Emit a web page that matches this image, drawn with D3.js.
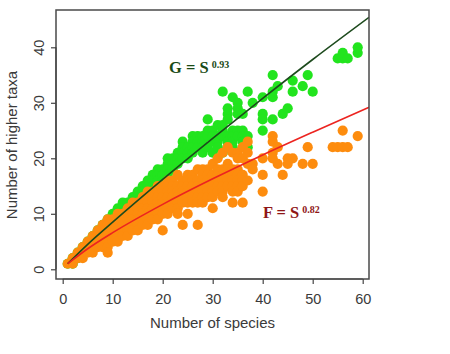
<!DOCTYPE html>
<html><head><meta charset="utf-8">
<script src="https://cdn.jsdelivr.net/npm/d3@7"></script>
<style>html,body{margin:0;padding:0;background:#fff;} svg{display:block;}</style>
</head><body><svg id="chart" width="450" height="354"></svg>
<script>
// ---- data ----
const xTicks = [0, 10, 20, 30, 40, 50, 60];
const yTicks = [0, 10, 20, 30, 40];
const xTitle = "Number of species";
const yTitle = "Number of higher taxa";

// [species, [higher-taxa values]] for genera (green)
const generaGroups = [
  [1,[1]],[2,[2,1]],[3,[3,2]],[4,[4,3]],[5,[5,4]],[6,[6,5]],[7,[7,6]],[8,[8,7,6]],[9,[9,8,7]],
  [10,[10,9,8]],[11,[11,10,9]],[12,[12,11,10]],[13,[12,11,10]],[14,[13,12,11]],[15,[14,13,12]],
  [16,[15,14,13]],[17,[16,15,14]],[18,[17,16,15]],[19,[18,17,16]],[20,[18,17,16]],
  [21,[20,19,18,17]],[22,[20,19,18]],[23,[21,20,19]],[24,[23,22,21,20]],[25,[22,21,20]],
  [26,[24,23,22,21]],[27,[24,23,22]],[28,[24,23,22,21]],[29,[27,25,24,22]],[30,[25,24,23,21]],
  [31,[26,24,23,22]],[32,[32,26,25,24,21]],[33,[29,28,27,24,23,22]],[34,[31,25,24,23,22]],
  [35,[30,29,28,25,24]],[36,[28,25,24,23]],[37,[32,24,22]],[38,[30]],[40,[31,28,27,25]],
  [42,[35,32,31,27]],[43,[33]],[44,[28]],[45,[29]],[46,[34,32]],[48,[33]],[49,[35]],[50,[32]],
  [55,[38]],[56,[38,39]],[57,[38]],[59,[39,40]]
];
// [species, [higher-taxa values]] for families (orange)
const familyGroups = [
  [1,[1]],[2,[2,1]],[3,[3,2]],[4,[4,3,2]],[5,[5,4,3]],[6,[6,5,4,3]],[7,[7,6,5,4]],
  [8,[8,7,6,5,4]],[9,[9,8,7,6,5,4,3]],[10,[9,8,7,6,5]],[11,[10,9,8,7,6,5]],[12,[10,9,8,7,6]],
  [13,[11,10,9,8,7,6]],[14,[12,11,10,9,8,7]],[15,[12,11,10,9,8,7]],[16,[13,12,11,10,9,8]],
  [17,[14,13,12,11,10,9,8]],[18,[14,13,12,11,10,9]],[19,[15,14,13,12,11,10,9]],
  [20,[15,14,13,12,11,10,7]],[21,[16,15,14,13,12,11,10]],[22,[16,15,14,13,12,11]],
  [23,[17,15,14,13,12,11,10]],[24,[16,15,14,13,12,8]],[25,[17,16,15,14,13,12,10]],
  [26,[17,16,15,14,13,12]],[27,[18,16,15,14,13,12,8]],[28,[18,17,16,15,14,13,12]],
  [29,[18,17,16,15,14,13]],[30,[19,17,16,15,14,13,11]],[31,[20,18,17,16,15,14]],
  [32,[21,18,17,16,15,14,13]],[33,[22,19,18,17,16,15]],[34,[21,18,17,16,15,14,12]],
  [35,[21,20,18,17,16,15,14]],[36,[22,20,17,16,15,12]],[37,[23,21,19,16]],[38,[19,18]],
  [40,[20,17,14]],[42,[24,23,21,20]],[43,[22,19]],[44,[17]],[45,[20,19]],[46,[20]],
  [48,[19]],[49,[22]],[50,[19]],[54,[22]],[55,[22]],[56,[25,22]],[57,[22]],[59,[24]]
];
// fitted power curves, sampled values
const fitS = [1, 5, 10, 20, 30, 40, 50, 61.26];
const fitG = [1, 4.5, 8.5, 16.2, 23.6, 30.8, 37.8, 45.4];
const fitF = [1, 3.7, 6.6, 11.7, 16.3, 20.6, 24.7, 29.2];
const labelG = ["G = S", "0.93"];
const labelF = ["F = S", "0.82"];

// ---- drawing ----
const svg = d3.select("#chart");
const box = {left: 56, right: 369, top: 10, bottom: 279};
const x = d3.scaleLinear().domain([-1.34, 61.26]).range([box.left, box.right]);
const y = d3.scaleLinear().domain([-1.75, 46.72]).range([box.bottom, box.top]);

const flat = groups => groups.flatMap(([s, vals]) => vals.map(v => ({s, v})));
const generaPts = flat(generaGroups);
const familyPts = flat(familyGroups);

svg.append("defs").append("clipPath").attr("id","clip")
  .append("rect").attr("x", box.left).attr("y", box.top)
  .attr("width", box.right - box.left).attr("height", box.bottom - box.top);

const plot = svg.append("g").attr("clip-path","url(#clip)");
plot.append("g").selectAll("circle").data(generaPts).join("circle")
  .attr("cx", d => x(d.s)).attr("cy", d => y(d.v)).attr("r", 5.1).attr("fill", "#22e41e");
plot.append("g").selectAll("circle").data(familyPts).join("circle")
  .attr("cx", d => x(d.s)).attr("cy", d => y(d.v)).attr("r", 5.1).attr("fill", "#fd8c0e");

const lineG = d3.line().x(d => x(d[0])).y(d => y(d[1])).curve(d3.curveMonotoneX);
plot.append("path").datum(fitS.map((s,i) => [s, fitG[i]])).attr("d", lineG)
  .attr("fill","none").attr("stroke","#1d4a1d").attr("stroke-width",1.6);
plot.append("path").datum(fitS.map((s,i) => [s, fitF[i]])).attr("d", lineG)
  .attr("fill","none").attr("stroke","#ec2420").attr("stroke-width",1.6);

// box
svg.append("rect").attr("x", box.left).attr("y", box.top)
  .attr("width", box.right - box.left).attr("height", box.bottom - box.top)
  .attr("fill","none").attr("stroke","#4a4a4a").attr("stroke-width",1.5);

const axisColor = "#444", textColor = "#3a3a3a";
// x axis
const xa = svg.append("g").attr("transform", `translate(0,${box.bottom})`)
  .call(d3.axisBottom(x).tickValues(xTicks).tickSize(5).tickPadding(10).tickFormat(d3.format("d")));
xa.select(".domain").remove();
xa.append("line").attr("x1", x(xTicks[0])).attr("x2", x(xTicks[xTicks.length-1]))
  .attr("stroke", axisColor).attr("stroke-width", 1.2);
xa.selectAll(".tick line").attr("stroke", axisColor).attr("stroke-width", 1.2);
xa.selectAll(".tick text").attr("fill", textColor).attr("font-family","Liberation Sans, Arial, sans-serif")
  .attr("font-size", 14.5).attr("y", 25).attr("dy", 0);

// y axis
const ya = svg.append("g").attr("transform", `translate(${box.left},0)`)
  .call(d3.axisLeft(y).tickValues(yTicks).tickSize(5).tickFormat(d3.format("d")));
ya.select(".domain").remove();
ya.append("line").attr("y1", y(yTicks[0])).attr("y2", y(yTicks[yTicks.length-1]))
  .attr("stroke", axisColor).attr("stroke-width", 1.2);
ya.selectAll(".tick line").attr("stroke", axisColor).attr("stroke-width", 1.2);
ya.selectAll(".tick text").attr("fill", textColor).attr("font-family","Liberation Sans, Arial, sans-serif")
  .attr("font-size", 14.5).attr("text-anchor","middle").attr("x", 0).attr("y", -12).attr("dy", 0)
  .attr("transform","rotate(-90)");

// titles
svg.append("text").attr("x", 212.5).attr("y", 328).attr("text-anchor","middle")
  .attr("font-family","Liberation Sans, Arial, sans-serif").attr("font-size", 15).attr("fill", textColor)
  .text(xTitle);
svg.append("text").attr("transform","translate(17,145) rotate(-90)").attr("text-anchor","middle")
  .attr("font-family","Liberation Sans, Arial, sans-serif").attr("font-size", 15).attr("fill", textColor)
  .text(yTitle);

// fit labels
function fitLabel(lbl, x0, yb, color) {
  const t = svg.append("text").attr("x", x0).attr("y", yb)
    .attr("font-family","Liberation Serif, Times New Roman, serif").attr("font-weight","bold").attr("fill", color);
  t.append("tspan").attr("font-size", 16.5).text(lbl[0]);
  t.append("tspan").attr("font-size", 10).attr("dx", 3).attr("dy", -5).text(lbl[1]);
}
fitLabel(labelG, 169, 73, "#1a4a16");
fitLabel(labelF, 263, 218, "#8e1616");
</script></body></html>
